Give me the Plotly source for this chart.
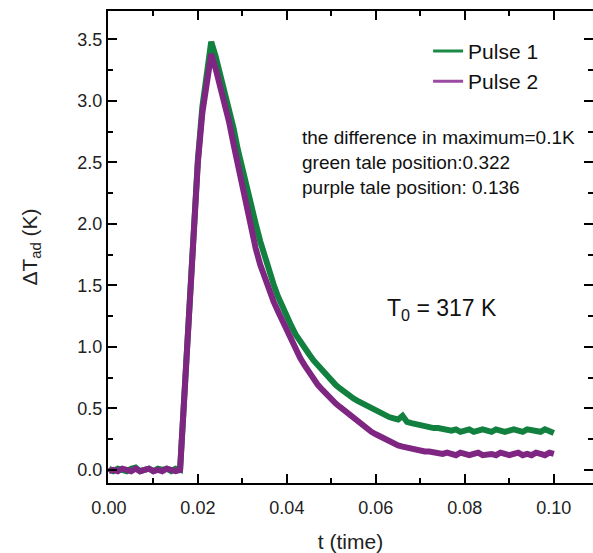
import plotly.graph_objects as go

# time grid (s) and read-off values (K)
t = [round(i * 0.001, 3) for i in range(101)]

pulse1 = [0.01, -0.01, 0.01, 0.00, -0.01, 0.01, 0.02, -0.01, 0.00, 0.01, -0.01, 0.01, 0.00, 0.01, -0.01, 0.01,
          0.00, 0.68, 1.36, 1.98, 2.52, 2.95, 3.25, 3.48, 3.36, 3.22,
          3.09, 2.95, 2.78, 2.60, 2.44, 2.29, 2.14, 2.00, 1.86, 1.73,
          1.62, 1.51, 1.41, 1.32, 1.24, 1.17, 1.10, 1.04, 0.99, 0.94,
          0.89, 0.85, 0.80, 0.76, 0.72, 0.69, 0.66, 0.63, 0.60, 0.58,
          0.56, 0.54, 0.52, 0.50, 0.48, 0.46, 0.45, 0.43, 0.42, 0.41,
          0.44, 0.39, 0.38, 0.37, 0.36, 0.36, 0.35, 0.34, 0.34, 0.33,
          0.33, 0.32, 0.33, 0.31, 0.32, 0.33, 0.31, 0.32, 0.33, 0.32,
          0.31, 0.33, 0.32, 0.31, 0.32, 0.33, 0.32, 0.31, 0.33, 0.32,
          0.32, 0.31, 0.33, 0.32, 0.30]

pulse2 = [-0.01, 0.00, -0.01, 0.01, 0.00, -0.01, 0.01, -0.01, 0.00, 0.01, -0.01, 0.00, -0.01, 0.01, 0.00, -0.01,
          0.00, 0.68, 1.36, 1.98, 2.50, 2.90, 3.18, 3.38, 3.26, 3.12,
          2.98, 2.83, 2.65, 2.47, 2.30, 2.13, 1.96, 1.80, 1.67, 1.56,
          1.46, 1.37, 1.29, 1.21, 1.13, 1.05, 0.98, 0.91, 0.85, 0.79,
          0.74, 0.69, 0.65, 0.61, 0.57, 0.54, 0.51, 0.48, 0.45, 0.42,
          0.40, 0.37, 0.34, 0.31, 0.29, 0.27, 0.25, 0.23, 0.22, 0.20,
          0.19, 0.18, 0.17, 0.17, 0.16, 0.15, 0.15, 0.14, 0.14, 0.13,
          0.14, 0.13, 0.12, 0.14, 0.13, 0.12, 0.13, 0.14, 0.12, 0.13,
          0.13, 0.12, 0.14, 0.13, 0.12, 0.13, 0.14, 0.12, 0.13, 0.12,
          0.14, 0.13, 0.12, 0.14, 0.13]

series_names = ["Pulse 1", "Pulse 2"]
colors = ["#12813f", "#7e2682"]
legend_colors = ["#1a8a45", "#9a4aa0"]
notes = ["the difference in maximum=0.1K", "green tale position:0.322", "purple tale position: 0.136"]
t0_label = "T<sub>0</sub> = 317 K"

FONT = "Liberation Sans, Arial, sans-serif"

fig = go.Figure()
for name, ys, c in zip(series_names, [pulse1, pulse2], colors):
    fig.add_trace(go.Scatter(x=t, y=ys, mode="lines", name=name, showlegend=False,
                             legendgroup=name, line=dict(color=c, width=6)))
# legend entries (thin lines as in the reference legend)
for name, c in zip(series_names, legend_colors):
    fig.add_trace(go.Scatter(x=[None], y=[None], mode="lines", name=name,
                             legendgroup=name, line=dict(color=c, width=3)))

axis_common = dict(
    showline=True, linecolor="black", linewidth=2, mirror="ticks",
    ticks="inside", ticklen=9, tickwidth=2, tickcolor="black",
    showgrid=False, zeroline=False,
    tickfont=dict(family=FONT, size=18, color="#222"),
)

fig.update_xaxes(range=[-0.0002, 0.1088], dtick=0.02, tick0=0, tickformat=".2f",
                 ticklabelstandoff=7,
                 minor=dict(ticks="inside", ticklen=5, tickwidth=2, dtick=0.01, tickcolor="black"),
                 title=dict(text="t (time)", font=dict(family=FONT, size=21, color="#222"), standoff=18),
                 **axis_common)
fig.update_yaxes(range=[-0.106, 3.73], dtick=0.5, tick0=0, tickformat=".1f",
                 minor=dict(ticks="inside", ticklen=5, tickwidth=2, dtick=0.25, tickcolor="black"),
                 title=dict(text="ΔT<sub>ad</sub> (K)", font=dict(family=FONT, size=21, color="#222"), standoff=34),
                 **axis_common)

ann = []
for i, txt in enumerate(notes):
    ann.append(dict(x=0.396, y=(483 - (138 + 24.5 * i)) / 472, xref="paper", yref="paper",
                    text=txt, showarrow=False, xanchor="left", yanchor="middle",
                    font=dict(family=FONT, size=19, color="#111")))
ann.append(dict(x=0.571, y=0.367, xref="paper", yref="paper", text=t0_label,
                showarrow=False, xanchor="left", yanchor="middle",
                font=dict(family=FONT, size=23, color="#111")))

fig.update_layout(
    width=593, height=553,
    margin=dict(l=108, r=0, t=11, b=70, autoexpand=False),
    paper_bgcolor="white", plot_bgcolor="white",
    showlegend=True,
    legend=dict(x=0.660, y=0.958, xanchor="left", yanchor="top",
                bgcolor="rgba(0,0,0,0)", font=dict(family=FONT, size=21, color="#111"),
                itemwidth=30, tracegroupgap=0),
    annotations=ann,
)

fig.write_html("out.html")
